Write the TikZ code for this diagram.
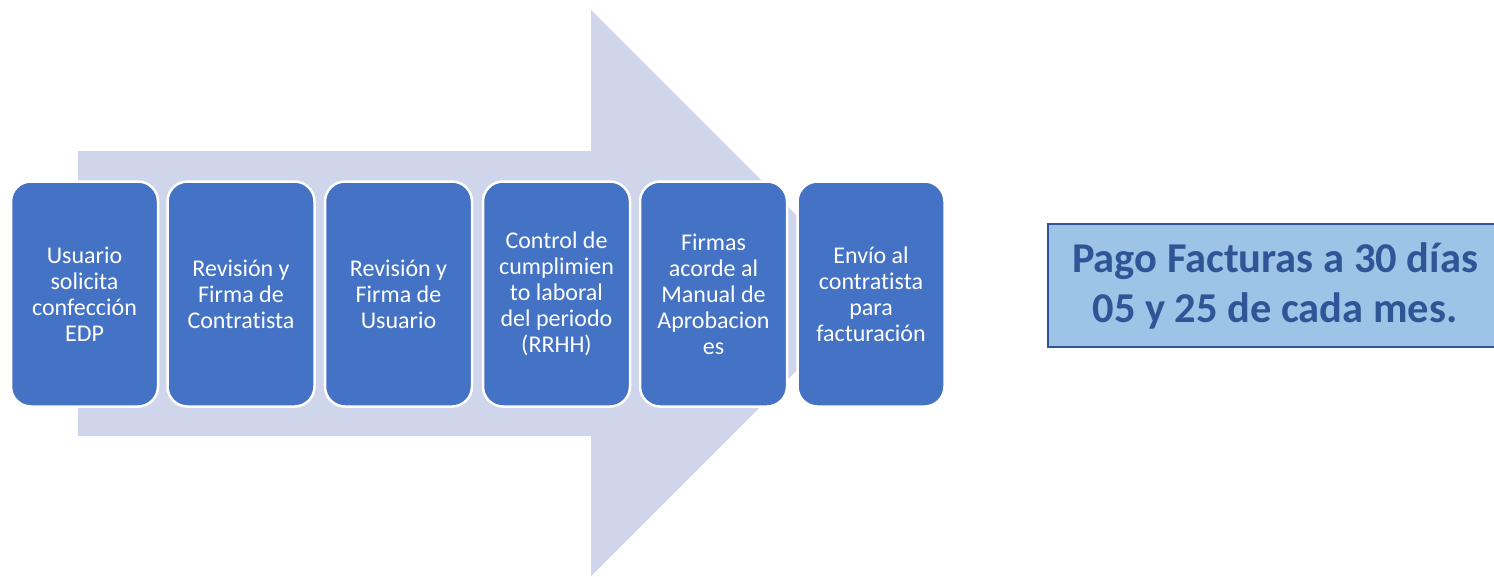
\documentclass[tikz,border=0pt]{standalone}
\usepackage{fontspec}
\setmainfont{Carlito}[Ligatures=NoCommon]
\definecolor{arrowfill}{HTML}{CFD5EA}
\definecolor{boxfill}{HTML}{4472C4}
\definecolor{notefill}{HTML}{9DC3E6}
\definecolor{notedraw}{HTML}{2F5597}
\tikzset{
  stepbox/.style={draw=white, line width=2.5pt, fill=boxfill, rounded corners=20pt,
    minimum width=147pt, minimum height=225pt, inner sep=0pt, align=center,
    text=white, font=\fontsize{24}{26}\selectfont},
  notebox/.style={draw=notedraw, line width=2.5pt, fill=notefill,
    minimum width=454pt, minimum height=123pt, inner sep=0pt, align=center,
    text=notedraw, font=\fontsize{42.5}{50}\selectfont\bfseries}
}
\begin{document}
\begin{tikzpicture}[x=1pt,y=-1pt]
\useasboundingbox (0,0) rectangle (1494,576);
\clip (0,0) rectangle (1494,576);
\fill[arrowfill] (78,151) -- (591,151) -- (591,10) -- (874,293) -- (591,576) -- (591,436) -- (78,436) -- cycle;
\node[stepbox] (b1) at (84.5,294) {Usuario\\solicita\\confección\\EDP};
\node[stepbox] (b2) at (241,294) {Revisión y\\Firma de\\Contratista};
\node[stepbox] (b3) at (398.5,294) {Revisión y\\Firma de\\Usuario};
\node[stepbox] (b4) at (556.5,294) {Control de\\cumplimien\\to laboral\\del periodo\\(RRHH)};
\node[stepbox] (b5) at (713.5,294) {Firmas\\acorde al\\Manual de\\Aprobacion\\es};
\node[stepbox] (b6) at (871,294) {Envío al\\contratista\\para\\facturación};
\node[notebox] (note) at (1275,285.5) {Pago Facturas a 30 días\\05 y 25 de cada mes.};
\end{tikzpicture}
\end{document}
